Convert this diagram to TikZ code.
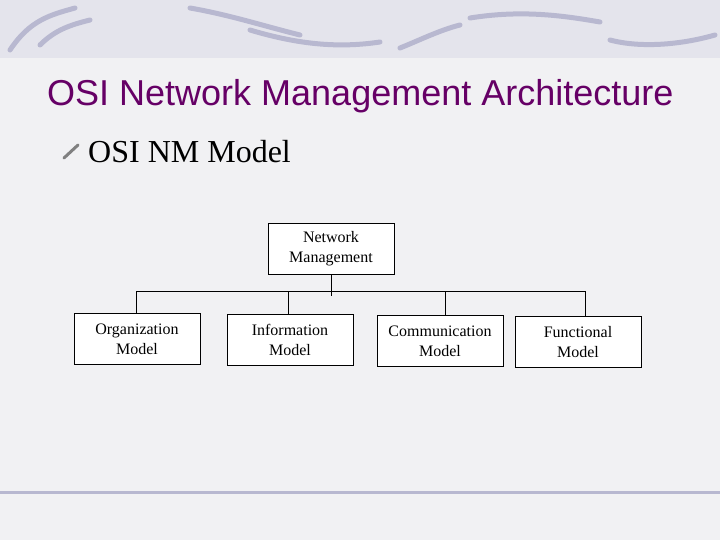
\documentclass[tikz,border=0pt]{standalone}
\usepackage{fontspec}
\setmainfont{Liberation Serif}
\newfontfamily\arialf{Liberation Sans}
\definecolor{bg}{HTML}{F1F1F3}
\definecolor{band}{HTML}{DCDCE8}
\definecolor{swirl}{HTML}{B8B8D0}
\definecolor{ttl}{HTML}{660066}
\tikzset{
  box/.style={draw=black, fill=white, line width=0.8pt, minimum width=126pt, minimum height=51pt, align=center, font=\fontsize{16}{20}\selectfont, inner sep=0pt},
  conn/.style={line width=0.8pt},
  deco/.style={swirl, line width=5pt, line cap=round}
}
\begin{document}
\begin{tikzpicture}[x=1pt,y=-1pt]
\useasboundingbox (0,0) rectangle (720,540);
\fill[bg] (0,0) rectangle (720,540);
\fill[band!60!bg] (0,0) rectangle (720,58);
\draw[deco] (10,50) .. controls (30,20) and (50,15) .. (75,8);
\draw[deco] (40,45) .. controls (55,30) and (70,25) .. (90,20);
\draw[deco] (190,8) .. controls (230,15) and (260,25) .. (300,35);
\draw[deco] (250,30) .. controls (300,45) and (340,48) .. (380,42);
\draw[deco] (400,48) .. controls (420,40) and (440,30) .. (460,25);
\draw[deco] (470,18) .. controls (520,10) and (560,15) .. (600,22);
\draw[deco] (610,40) .. controls (640,48) and (680,45) .. (715,35);
\draw[swirl, line width=3pt] (0,492) -- (720,492);
\node[anchor=west, font=\arialf\fontsize{36}{40}\selectfont, text=ttl, inner sep=0pt] (title) at (47,96) {OSI Network Management Architecture};
\draw[gray, line width=3pt, line cap=round] (64,158) -- (78,145);
\node[anchor=west, font=\fontsize{32}{36}\selectfont, inner sep=0pt] (sub) at (88,152) {OSI NM Model};
\node[box] (nm) at (331,249) {Network\\Management};
\node[box] (org) at (137,339) {Organization\\Model};
\node[box] (inf) at (290,340) {Information\\Model};
\node[box] (com) at (440,341) {Communication\\Model};
\node[box] (fun) at (578,342) {Functional\\Model};
\coordinate (bl) at (136,291);
\coordinate (br) at (585,291);
\coordinate (nmb) at (331,296);
\draw[conn] (bl) -- (br);
\draw[conn] (nm.south) -- (nmb);
\draw[conn] (bl) -- (bl |- org.north);
\draw[conn] (288,291) -- (288,314.5);
\draw[conn] (445,291) -- (445,315.5);
\draw[conn] (br) -- (br |- fun.north);
\end{tikzpicture}
\end{document}
